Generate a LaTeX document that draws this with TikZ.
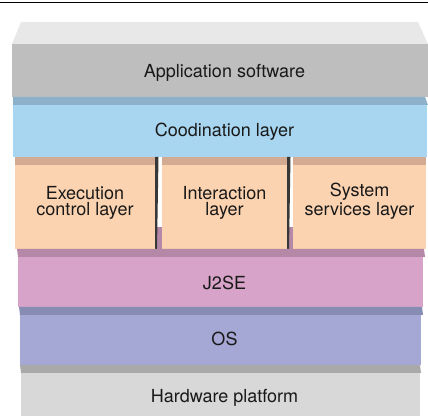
\documentclass[tikz,border=0pt]{standalone}
\usepackage{fontspec}
\setmainfont{TeX Gyre Heros}
\usetikzlibrary{positioning}
\definecolor{apptop}{HTML}{E8E8E8}
\definecolor{appfront}{HTML}{BEBEBE}
\definecolor{coordtop}{HTML}{8DB1CB}
\definecolor{coordfront}{HTML}{A8D5F0}
\definecolor{midtop}{HTML}{D3AB92}
\definecolor{midfront}{HTML}{FCD3B0}
\definecolor{jsetop}{HTML}{B688A8}
\definecolor{jsefront}{HTML}{D8A3C8}
\definecolor{ostop}{HTML}{878CB2}
\definecolor{osfront}{HTML}{A5A7D4}
\definecolor{hwtop}{HTML}{A9A9A9}
\definecolor{hwfront}{HTML}{D8D8D8}
\begin{document}
\begin{tikzpicture}[x=0.5pt, y=-0.5pt,
        layertext/.style={anchor=base, align=center, text=black!90,
            font=\fontsize{9}{8}\selectfont},
        gapline/.style={fill=black!78}]
    \useasboundingbox (0,0) rectangle (428,416);
    \draw[line width=0.6pt] (0,2.5) -- (428,2.5);
    \fill[apptop] (21,22) -- (418,22) -- (428,44) -- (12,44) -- cycle;
    \fill[appfront] (12,44) rectangle (428,97);
    \fill[coordtop] (13,97) -- (425,97) -- (428,105) -- (13,105) -- cycle;
    \fill[coordfront] (13,105) rectangle (427,157);
    \fill[jsetop] (155,227) rectangle (162,249);
    \fill[jsetop] (287,227) rectangle (293,249);
    \foreach \xl/\xr in {15/155, 162/287, 293/426} {
        \fill[midtop] (\xl,157) rectangle (\xr,165);
        \fill[midfront] (\xl,165) rectangle (\xr,249);
    }
    \fill[gapline] (155,157) -- (158.5,157) -- (157,249) -- (155,249) -- cycle;
    \fill[gapline] (287,157) -- (290.5,157) -- (289,249) -- (287,249) -- cycle;
    \fill[jsetop] (17,249) -- (424,249) -- (425,257) -- (18,257) -- cycle;
    \fill[jsefront] (18,257) rectangle (423,307);
    \fill[ostop] (19,307) -- (422,307) -- (423,315) -- (20,315) -- cycle;
    \fill[osfront] (20,315) rectangle (421,365);
    \fill[hwtop] (20,365) -- (420,365) -- (421,373) -- (21,373) -- cycle;
    \fill[hwfront] (21,373) rectangle (420,416);
    \node[layertext] at (224.5,78)  (app)   {Application software};
    \node[layertext] at (224.5,137) (coord) {Coodination layer};
    \node[layertext] at (85,216)    (exec)  {Execution\\control layer};
    \node[layertext] at (224.5,216) (inter) {Interaction\\layer};
    \node[layertext] at (359.5,216) (sys)   {System\\services layer};
    \node[layertext] at (224.5,290) (jse)   {J2SE};
    \node[layertext] at (224.5,346) (os)    {OS};
    \node[layertext] at (224.5,402) (hw)    {Hardware platform};
\end{tikzpicture}
\end{document}
